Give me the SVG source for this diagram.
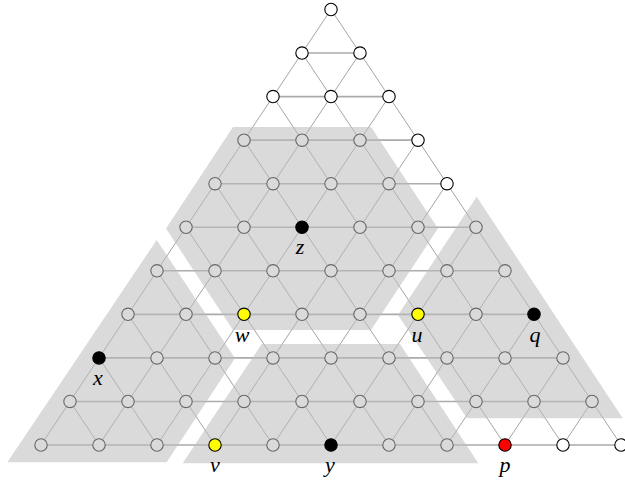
<svg xmlns="http://www.w3.org/2000/svg" width="625" height="481" viewBox="0 0 625 481">
<style>
.e{stroke:#9a9a9a;stroke-width:0.9;fill:none}
.h{stroke:#ababab;stroke-width:1.6;fill:none}
.n{fill:#fff;stroke:#000;stroke-width:1.1}
.ov{fill:#bcbcbc;fill-opacity:0.55;stroke:none}
.k{fill:#000;stroke:#000;stroke-width:1.1}
.yl{fill:#ffff00;stroke:#000;stroke-width:1.1}
.rd{fill:#ff0000;stroke:#000;stroke-width:1.1}
.lb{font-family:"Liberation Serif","DejaVu Serif",serif;font-style:italic;font-size:22px;fill:#000;text-anchor:middle}
</style>
<rect width="625" height="481" fill="#fff"/>
<g id="connectors">
<path class="e" d="M331,9.5L41,445M360,53.05L99,445M389,96.6L157,445M418,140.15L215,445M447,183.7L273,445M476,227.25L331,445M505,270.8L389,445M534,314.35L447,445M563,357.9L505,445M592,401.45L563,445"/>
<path class="e" d="M331,9.5L621,445M302,53.05L563,445M273,96.6L505,445M244,140.15L447,445M215,183.7L389,445M186,227.25L331,445M157,270.8L273,445M128,314.35L215,445M99,357.9L157,445M70,401.45L99,445"/>
<path class="h" d="M302,53.05H360M273,96.6H389M244,140.15H418M215,183.7H447M186,227.25H476M157,270.8H505M128,314.35H534M99,357.9H563M70,401.45H592M41,445H621"/>
</g>
<g id="lattice-nodes">
<circle class="n" cx="331" cy="9.5" r="6.2"/>
<circle class="n" cx="302" cy="53.05" r="6.2"/><circle class="n" cx="360" cy="53.05" r="6.2"/>
<circle class="n" cx="273" cy="96.6" r="6.2"/><circle class="n" cx="331" cy="96.6" r="6.2"/><circle class="n" cx="389" cy="96.6" r="6.2"/>
<circle class="n" cx="244" cy="140.15" r="6.2"/><circle class="n" cx="302" cy="140.15" r="6.2"/><circle class="n" cx="360" cy="140.15" r="6.2"/><circle class="n" cx="418" cy="140.15" r="6.2"/>
<circle class="n" cx="215" cy="183.7" r="6.2"/><circle class="n" cx="273" cy="183.7" r="6.2"/><circle class="n" cx="331" cy="183.7" r="6.2"/><circle class="n" cx="389" cy="183.7" r="6.2"/><circle class="n" cx="447" cy="183.7" r="6.2"/>
<circle class="n" cx="186" cy="227.25" r="6.2"/><circle class="n" cx="244" cy="227.25" r="6.2"/><circle class="n" cx="360" cy="227.25" r="6.2"/><circle class="n" cx="418" cy="227.25" r="6.2"/><circle class="n" cx="476" cy="227.25" r="6.2"/>
<circle class="n" cx="157" cy="270.8" r="6.2"/><circle class="n" cx="215" cy="270.8" r="6.2"/><circle class="n" cx="273" cy="270.8" r="6.2"/><circle class="n" cx="331" cy="270.8" r="6.2"/><circle class="n" cx="389" cy="270.8" r="6.2"/><circle class="n" cx="447" cy="270.8" r="6.2"/><circle class="n" cx="505" cy="270.8" r="6.2"/>
<circle class="n" cx="128" cy="314.35" r="6.2"/><circle class="n" cx="186" cy="314.35" r="6.2"/><circle class="n" cx="302" cy="314.35" r="6.2"/><circle class="n" cx="360" cy="314.35" r="6.2"/><circle class="n" cx="476" cy="314.35" r="6.2"/>
<circle class="n" cx="157" cy="357.9" r="6.2"/><circle class="n" cx="215" cy="357.9" r="6.2"/><circle class="n" cx="273" cy="357.9" r="6.2"/><circle class="n" cx="331" cy="357.9" r="6.2"/><circle class="n" cx="389" cy="357.9" r="6.2"/><circle class="n" cx="447" cy="357.9" r="6.2"/><circle class="n" cx="505" cy="357.9" r="6.2"/><circle class="n" cx="563" cy="357.9" r="6.2"/>
<circle class="n" cx="70" cy="401.45" r="6.2"/><circle class="n" cx="128" cy="401.45" r="6.2"/><circle class="n" cx="186" cy="401.45" r="6.2"/><circle class="n" cx="244" cy="401.45" r="6.2"/><circle class="n" cx="302" cy="401.45" r="6.2"/><circle class="n" cx="360" cy="401.45" r="6.2"/><circle class="n" cx="418" cy="401.45" r="6.2"/><circle class="n" cx="476" cy="401.45" r="6.2"/><circle class="n" cx="534" cy="401.45" r="6.2"/><circle class="n" cx="592" cy="401.45" r="6.2"/>
<circle class="n" cx="41" cy="445" r="6.2"/><circle class="n" cx="99" cy="445" r="6.2"/><circle class="n" cx="157" cy="445" r="6.2"/><circle class="n" cx="273" cy="445" r="6.2"/><circle class="n" cx="389" cy="445" r="6.2"/><circle class="n" cx="447" cy="445" r="6.2"/><circle class="n" cx="563" cy="445" r="6.2"/><circle class="n" cx="621" cy="445" r="6.2"/>
</g>
<g id="regions">
<polygon id="region-hex" class="ov" points="233,127 371,127 438,228.5 371,330 233,330 166,228.5"/>
<polygon id="region-left" class="ov" points="156.7,240 235,358.3 166.7,462.3 7.3,462.3"/>
<polygon id="region-bottom" class="ov" points="261.7,344 400,344 478.3,463.3 182.7,463.3"/>
<polygon id="region-right" class="ov" points="476.7,196.7 622.7,418.3 467,418.3 398,315"/>
</g>
<g id="node-z"><circle class="k" cx="302" cy="227.25" r="6.2"/><text class="lb" x="300" y="254">z</text></g>
<g id="node-w"><circle class="yl" cx="244" cy="314.35" r="6.2"/><text class="lb" x="242" y="341.5">w</text></g>
<g id="node-u"><circle class="yl" cx="418" cy="314.35" r="6.2"/><text class="lb" x="417" y="341.5">u</text></g>
<g id="node-q"><circle class="k" cx="534" cy="314.35" r="6.2"/><text class="lb" x="535" y="341.5">q</text></g>
<g id="node-x"><circle class="k" cx="99" cy="357.9" r="6.2"/><text class="lb" x="98" y="385">x</text></g>
<g id="node-v"><circle class="yl" cx="215" cy="445" r="6.2"/><text class="lb" x="215" y="471.5">v</text></g>
<g id="node-y"><circle class="k" cx="331" cy="445" r="6.2"/><text class="lb" x="330" y="471.5">y</text></g>
<g id="node-p"><circle class="rd" cx="505" cy="445" r="6.2"/><text class="lb" x="505" y="471.5">p</text></g>
</svg>
